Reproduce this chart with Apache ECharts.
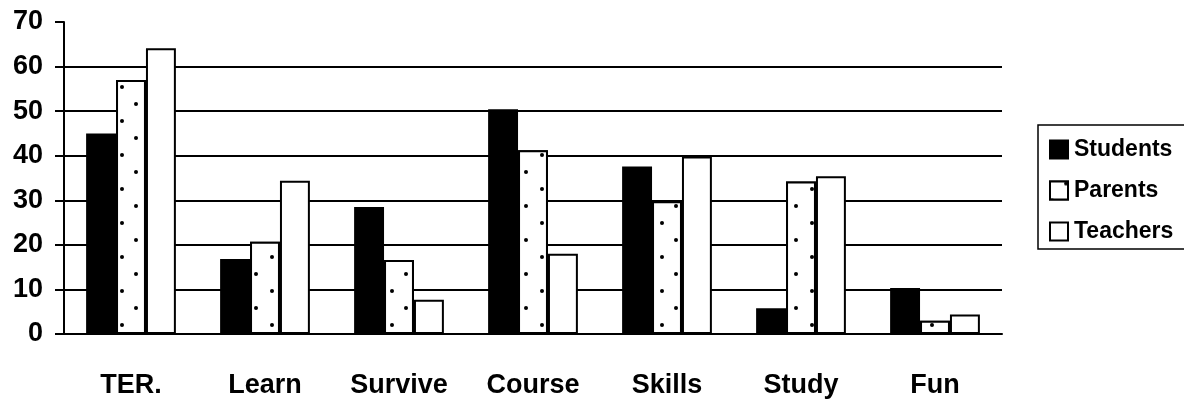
<!DOCTYPE html>
<html lang="en">
  <head>
    <meta charset="UTF-8" />
    <title>Students, Parents and Teachers</title>
    <script src="https://cdn.jsdelivr.net/npm/echarts@6/dist/echarts.min.js"></script>
    <style>
      html,
      body {
        margin: 0;
        padding: 0;
        background: #fff;
      }
      #main {
        width: 1184px;
        height: 407px;
      }
    </style>
  </head>
  <body>
    <div id="main"></div>
    <script>
      // values
      const categories = ["TER.", "Learn", "Survive", "Course", "Skills", "Study", "Fun"];
      const seriesNames = ["Students", "Parents", "Teachers"];
      const students = [45, 16.8, 28.5, 50.4, 37.6, 5.8, 10.3];
      const parents = [57, 20.7, 16.6, 41.2, 29.8, 34.2, 3];
      const teachers = [64.1, 34.4, 7.7, 18, 39.8, 35.4, 4.4];

      const font = "'Liberation Sans', Arial, sans-serif";

      // dotted fill for Parents
      const dots = {
        symbol: "circle",
        symbolSize: 1,
        color: "#000",
        backgroundColor: "#fff",
        dashArrayX: [
          [4, 26],
          [0, 14, 4, 12],
        ],
        dashArrayY: [4, 13],
      };

      const barStyle = (fill) => ({
        color: fill,
        borderColor: "#000",
        borderWidth: 2,
      });

      const chart = echarts.init(document.getElementById("main"));

      const option = {
        animation: false,
        backgroundColor: "#fff",
        grid: { left: 64, right: 182, top: 22, bottom: 73 },
        legend: {
          orient: "vertical",
          left: 1038,
          top: 125,
          padding: [13, 30, 6, 11],
          itemWidth: 18,
          itemHeight: 18,
          itemGap: 18,
          borderColor: "#000",
          borderWidth: 1.5,
          borderRadius: 0,
          icon: "rect",
          data: seriesNames,
          textStyle: {
            color: "#000",
            fontFamily: font,
            fontWeight: "bold",
            fontSize: 23,
            padding: [0, 0, 0, 1],
          },
        },
        xAxis: {
          type: "category",
          data: categories,
          axisLine: { lineStyle: { color: "#000", width: 2 } },
          axisTick: { length: 10, lineStyle: { color: "#000", width: 2 } },
          axisLabel: {
            color: "#000",
            fontFamily: font,
            fontWeight: "bold",
            fontSize: 27,
            margin: 38,
          },
        },
        yAxis: {
          type: "value",
          min: 0,
          max: 70,
          interval: 10,
          axisLine: { show: true, lineStyle: { color: "#000", width: 2 } },
          axisTick: { show: true, length: 9, lineStyle: { color: "#000", width: 2 } },
          axisLabel: {
            color: "#000",
            fontFamily: font,
            fontWeight: "bold",
            fontSize: 27,
            margin: 21,
          },
          splitLine: {
            show: true,
            lineStyle: {
              width: 2,
              color: ["#000", "#000", "#000", "#000", "#000", "#000", "#000", "transparent"],
            },
          },
        },
        series: [
          {
            name: "Students",
            type: "bar",
            data: students,
            barGap: "0%",
            barCategoryGap: "33%",
            itemStyle: barStyle("#000"),
          },
          {
            name: "Parents",
            type: "bar",
            data: parents,
            itemStyle: Object.assign(barStyle("#fff"), { decal: dots }),
          },
          {
            name: "Teachers",
            type: "bar",
            data: teachers,
            itemStyle: barStyle("#fff"),
          },
        ],
      };

      chart.setOption(option);
    </script>
  </body>
</html>
